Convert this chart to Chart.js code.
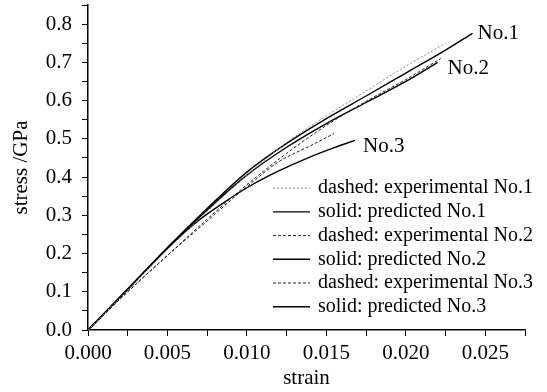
<!DOCTYPE html>
<html>
<head>
<meta charset="utf-8">
<script src="https://cdn.jsdelivr.net/npm/chart.js@4/dist/chart.umd.min.js"></script>
<style>
html,body{margin:0;padding:0;background:#fff;}
#wrap{width:547px;height:392px;position:relative;}
</style>
</head>
<body>
<div id="wrap"><canvas id="c" width="547" height="392"></canvas></div>
<script>
// ---- data ----
const expStrain1 = [0,0.0025,0.005,0.0075,0.010,0.0125,0.015,0.0175,0.020,0.0225];
const expStress1 = [0,0.105,0.21,0.31,0.405,0.49,0.56,0.625,0.69,0.75];
const predStrain1 = [0,0.0025,0.005,0.0075,0.010,0.0125,0.015,0.0175,0.020,0.0225,0.0242];
const predStress1 = [0,0.107,0.216,0.318,0.413,0.488,0.553,0.612,0.672,0.732,0.776];
const expStrain2 = [0,0.0025,0.005,0.0075,0.010,0.0125,0.015,0.0175,0.020,0.0222];
const expStress2 = [0,0.10,0.195,0.29,0.38,0.462,0.535,0.598,0.655,0.71];
const predStrain2 = [0,0.0025,0.005,0.0075,0.010,0.0125,0.015,0.0175,0.020,0.022];
const predStress2 = [0,0.107,0.214,0.314,0.405,0.478,0.54,0.595,0.65,0.70];
const expStrain3 = [0,0.0025,0.005,0.0075,0.009,0.0105,0.012,0.014,0.0155];
const expStress3 = [0,0.10,0.195,0.285,0.34,0.392,0.44,0.482,0.514];
const predStrain3 = [0,0.0025,0.005,0.007,0.0085,0.010,0.012,0.014,0.0155,0.0168];
const predStress3 = [0,0.106,0.214,0.288,0.332,0.372,0.416,0.453,0.477,0.496];

const seriesLabels = [
  'dashed: experimental No.1','solid: predicted No.1',
  'dashed: experimental No.2','solid: predicted No.2',
  'dashed: experimental No.3','solid: predicted No.3'
];
const curveTags = ['No.1','No.2','No.3'];
const xTickStep = 0.0025, xMajor = 0.005;
const yTickStep = 0.05, yMajor = 0.1;

function pts(xs, ys){ return xs.map((x,i)=>({x:x, y:ys[i]})); }

const FONT = 'Liberation Serif';

const styles = [
  {borderColor:'#8a8a8a', borderWidth:1, borderDash:[2,2]},
  {borderColor:'#000', borderWidth:1.4, borderDash:[]},
  {borderColor:'#222', borderWidth:1, borderDash:[3,2]},
  {borderColor:'#000', borderWidth:1.4, borderDash:[]},
  {borderColor:'#222', borderWidth:1, borderDash:[3,2]},
  {borderColor:'#000', borderWidth:1.4, borderDash:[]}
];
const dataSets = [
  pts(expStrain1, expStress1), pts(predStrain1, predStress1),
  pts(expStrain2, expStress2), pts(predStrain2, predStress2),
  pts(expStrain3, expStress3), pts(predStrain3, predStress3)
];

const datasets = dataSets.map((d,i)=>Object.assign({
  label: seriesLabels[i], data: d, showLine: true, pointRadius: 0,
  fill: false, cubicInterpolationMode: 'monotone'
}, styles[i]));

function isMajor(v, step){ const r = v/step; return Math.abs(r - Math.round(r)) < 1e-6; }

const overlay = {
  id: 'overlay',
  afterDatasetsDraw(chart){
    const ctx = chart.ctx, ca = chart.chartArea;
    const xs = chart.scales.x, ys = chart.scales.y;
    ctx.save();
    // curve tags
    ctx.fillStyle = '#000';
    ctx.font = '21px "' + FONT + '"';
    ctx.textBaseline = 'middle';
    ctx.textAlign = 'left';
    const tagOffsets = [[5,0],[10,6],[8,6]];
    curveTags.forEach((t,k)=>{
      const d = chart.data.datasets[2*k+1].data;
      const p = d[d.length-1];
      ctx.fillText(t, xs.getPixelForValue(p.x)+tagOffsets[k][0], ys.getPixelForValue(p.y)+tagOffsets[k][1]);
    });
    // legend
    ctx.font = '20px "' + FONT + '"';
    const n = chart.data.datasets.length;
    chart.data.datasets.forEach((ds,i)=>{
      const y = ca.bottom - 23.3 - (n-1-i)*23.7;
      ctx.beginPath();
      ctx.setLineDash(ds.borderDash||[]);
      ctx.strokeStyle = ds.borderColor;
      ctx.lineWidth = ds.borderWidth;
      ctx.moveTo(ca.right-252, y); ctx.lineTo(ca.right-215, y);
      ctx.stroke();
      ctx.setLineDash([]);
      ctx.fillStyle = '#000';
      ctx.fillText(ds.label, ca.right-207, y);
    });
    ctx.restore();
  }
};

function zeroPad(s){ s.paddingTop = 0; s.paddingBottom = 0; s.paddingLeft = 0; s.paddingRight = 0; }

new Chart(document.getElementById('c'), {
  type: 'scatter',
  data: { datasets },
  plugins: [overlay],
  options: {
    responsive: false,
    animation: false,
    layout: { padding: { top: 5, right: 22, left: 0, bottom: 0 } },
    plugins: { legend: { display: false }, tooltip: { enabled: false } },
    scales: {
      x: {
        type: 'linear', min: 0, max: 0.0275,
        afterFit(s){ s.height = 62; zeroPad(s); },
        ticks: {
          stepSize: xTickStep, autoSkip: false, maxRotation: 0, padding: 5,
          color: '#000', font: { family: FONT, size: 21 },
          callback: v => isMajor(v, xMajor) ? v.toFixed(3) : ''
        },
        grid: { drawOnChartArea: false, drawTicks: true, tickLength: 6, tickColor: '#000', tickWidth: 1 },
        border: { display: true, color: '#000', width: 1.5 },
        title: { display: true, text: 'strain', color: '#000', font: { family: FONT, size: 21 }, padding: { top: 0, bottom: 1 } }
      },
      y: {
        type: 'linear', min: 0, max: 0.85,
        afterFit(s){ s.width = 88; zeroPad(s); },
        ticks: {
          stepSize: yTickStep, autoSkip: false, padding: 10,
          color: '#000', font: { family: FONT, size: 21 },
          callback: v => isMajor(v, yMajor) ? v.toFixed(1) : ''
        },
        grid: { drawOnChartArea: false, drawTicks: true, tickLength: 6, tickColor: '#000', tickWidth: 1 },
        border: { display: true, color: '#000', width: 1.5 },
        title: { display: true, text: 'stress /GPa', color: '#000', font: { family: FONT, size: 21 }, padding: { top: 9, bottom: 0 } }
      }
    }
  }
});
</script>
</body>
</html>
